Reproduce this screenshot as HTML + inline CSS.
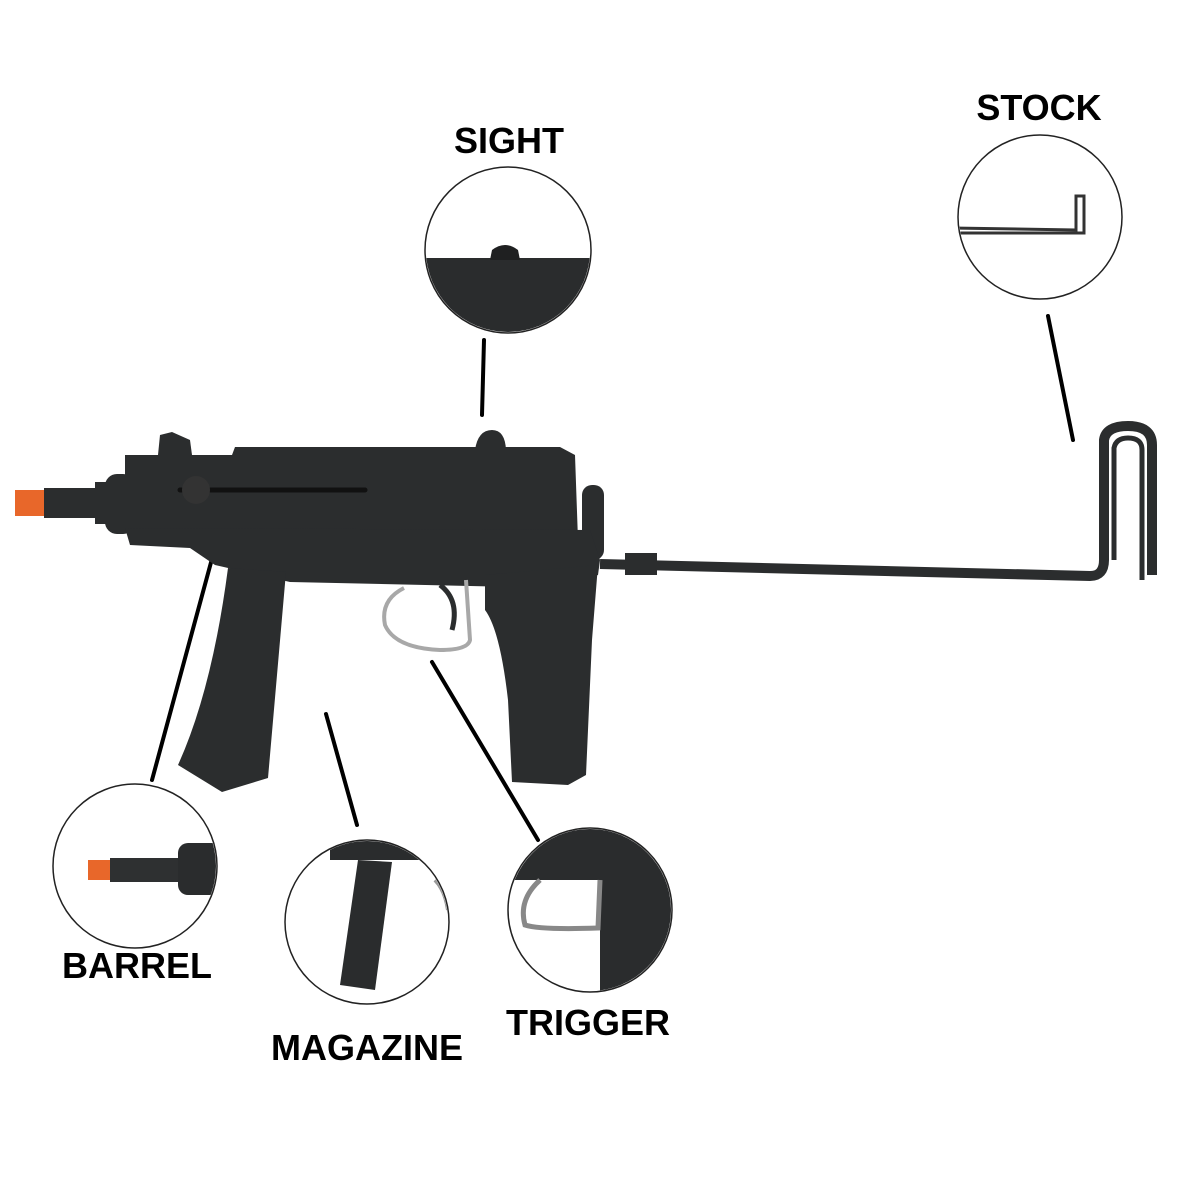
<!DOCTYPE html>
<html><head><style>
html,body{margin:0;padding:0;background:#fff;}
svg{display:block}
text{font-family:"Liberation Sans",sans-serif;font-weight:bold;fill:#000;}
</style></head><body>
<svg width="1200" height="1200" viewBox="0 0 1200 1200" xmlns="http://www.w3.org/2000/svg">
<defs>
<clipPath id="c1"><circle cx="508" cy="250" r="82"/></clipPath>
<clipPath id="c2"><circle cx="1040" cy="217" r="81"/></clipPath>
<clipPath id="c3"><circle cx="135" cy="866" r="81"/></clipPath>
<clipPath id="c4"><circle cx="367" cy="922" r="81"/></clipPath>
<clipPath id="c5"><circle cx="590" cy="910" r="81"/></clipPath>
</defs>
<rect width="1200" height="1200" fill="#fff"/>
<text x="509" y="153" font-size="36" text-anchor="middle">SIGHT</text>
<text x="1039" y="120" font-size="36" text-anchor="middle">STOCK</text>
<text x="137" y="978" font-size="36" text-anchor="middle">BARREL</text>
<text x="367" y="1060" font-size="36" text-anchor="middle">MAGAZINE</text>
<text x="588" y="1035" font-size="36" text-anchor="middle">TRIGGER</text>
<!-- circle contents -->
<g clip-path="url(#c1)">
<rect x="420" y="258" width="175" height="90" fill="#2a2c2d"/>
<path d="M490 260 L492 250 Q505 240 518 250 L520 260 Z" fill="#1f2021"/>
</g>
<g clip-path="url(#c2)">
<polyline points="955,228 1076,230 1076,196 1084,196 1084,233 955,233" fill="none" stroke="#333" stroke-width="3"/>
</g>
<g clip-path="url(#c3)">
<rect x="88" y="860" width="24" height="20" fill="#e8672a"/>
<rect x="110" y="858" width="70" height="24" fill="#2e3031"/>
<rect x="178" y="843" width="45" height="52" rx="10" fill="#2a2c2d"/>
</g>
<g clip-path="url(#c4)">
<rect x="330" y="840" width="120" height="20" fill="#2a2c2d"/>
<path d="M358 860 L392 862 L375 990 L340 985 Z" fill="#2a2c2d"/>
<path d="M435 880 Q445 890 448 910" fill="none" stroke="#999" stroke-width="4"/>
</g>
<g clip-path="url(#c5)">
<rect x="505" y="825" width="175" height="55" fill="#2a2c2d"/>
<path d="M600 880 L680 880 L680 1000 L600 1000 Z" fill="#2a2c2d"/>
<path d="M540 880 Q518 900 525 925 Q540 930 598 928 L600 880" fill="none" stroke="#888" stroke-width="5"/>
</g>
<g fill="none" stroke="#222" stroke-width="1.5">
<circle cx="508" cy="250" r="83"/>
<circle cx="1040" cy="217" r="82"/>
<circle cx="135" cy="866" r="82"/>
<circle cx="367" cy="922" r="82"/>
<circle cx="590" cy="910" r="82"/>
</g>
<g stroke="#000" stroke-width="4" stroke-linecap="round">
<line x1="484" y1="340" x2="482" y2="415"/>
<line x1="1048" y1="316" x2="1073" y2="440"/>
<line x1="213" y1="555" x2="152" y2="780"/>
<line x1="326" y1="714" x2="357" y2="825"/>
<line x1="432" y1="662" x2="538" y2="840"/>
</g>
<!-- gun -->
<path d="M600 564 L1090 576 Q1104 576 1104 560 L1104 440 Q1106 426 1128 426 Q1152 426 1152 445 L1152 575" fill="none" stroke="#2b2d2e" stroke-width="10" stroke-linejoin="round"/>
<path d="M1114 560 L1114 448 Q1116 438 1128 438 Q1142 438 1142 450 L1142 580" fill="none" stroke="#2b2d2e" stroke-width="5"/>
<g fill="#2b2d2e">
<rect x="625" y="553" width="32" height="22"/>
<rect x="582" y="485" width="22" height="75" rx="10"/>
<rect x="15" y="490" width="30" height="26" fill="#e8672a"/>
<rect x="44" y="488" width="56" height="30"/>
<rect x="95" y="482" width="12" height="42"/>
<rect x="105" y="474" width="30" height="60" rx="12"/>
<path d="M125 455 L232 455 L235 447 L560 447 L575 455 L578 540 L125 530 Z"/>
<path d="M158 455 L160 435 L172 432 L190 440 L192 455 Z"/>
<path d="M475 450 Q478 430 492 430 Q505 430 506 450 Z"/>
<path d="M125 528 L590 530 L600 560 L598 575 L560 588 L290 582 L215 565 L190 548 L130 545 Z"/>
<path d="M228 568 L286 572 L268 778 L222 792 L178 765 Q212 690 228 568 Z"/>
<path d="M485 575 L598 565 L592 640 L586 775 L568 785 L512 782 L508 700 Q500 630 485 610 Z"/>
</g>
<line x1="180" y1="490" x2="365" y2="490" stroke="#111" stroke-width="5" stroke-linecap="round"/>
<circle cx="196" cy="490" r="14" fill="#333"/>
<path d="M404 588 Q380 600 385 625 Q395 648 440 650 Q468 650 470 640 L466 580" fill="none" stroke="#a8a8a8" stroke-width="4"/>
<path d="M440 585 Q460 600 452 630" fill="none" stroke="#2b2d2e" stroke-width="5"/>
</svg>
</body></html>
